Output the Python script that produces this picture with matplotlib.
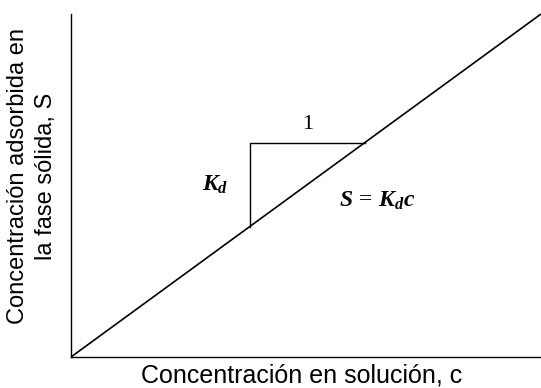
import numpy as np
import matplotlib
matplotlib.use('Agg')
import matplotlib.pyplot as plt

plt.rcParams['font.family'] = ['Liberation Sans', 'DejaVu Sans']
plt.rcParams['mathtext.fontset'] = 'custom'
plt.rcParams['mathtext.it'] = 'Liberation Serif:italic:bold'
plt.rcParams['mathtext.rm'] = 'Liberation Serif'

# Linear isotherm S = Kd * c
Kd = 1.0
c = np.array([0.0, 10.0])
S = Kd * c

# Slope triangle endpoints (c values)
tri_c = [3.8, 6.25]

fig = plt.figure(figsize=(5.41, 3.88), dpi=100)
ax = fig.add_axes([71 / 541, 31 / 388, 470 / 541, 343 / 388])

ax.plot(c, S, color='black', lw=1.2, solid_capstyle='butt', clip_on=False)

# slope triangle
c1, c2 = tri_c
ax.plot([c1, c1, c2], [Kd * c1, Kd * c2, Kd * c2], color='black', lw=1.0)

ax.text((c1 + c2) / 2, Kd * c2 + 0.25, '1', family='Liberation Serif',
        fontsize=16, ha='center', va='bottom')
ax.text(c1 - 0.45, Kd * (c1 + c2) / 2, r'$K_d$', fontsize=17,
        ha='right', va='center')
ax.text(5.7, 4.55, r'$S\, =\, K_d c$', fontsize=17, ha='left', va='center')

ax.set_xlim(0, 10)
ax.set_ylim(0, 10)
ax.set_xticks([])
ax.set_yticks([])
for side in ['top', 'right']:
    ax.spines[side].set_visible(False)
for side in ['left', 'bottom']:
    ax.spines[side].set_linewidth(1.0)

fig.text(302 / 541, 12 / 388, 'Concentración en solución, c', fontsize=18,
         ha='center', va='center')
fig.text(32 / 541, 212 / 388, 'Concentración adsorbida en\nla fase sólida, S',
         fontsize=17, rotation=90, ha='center', va='center',
         multialignment='center', linespacing=1.3)

fig.savefig('out.png', dpi=100)
